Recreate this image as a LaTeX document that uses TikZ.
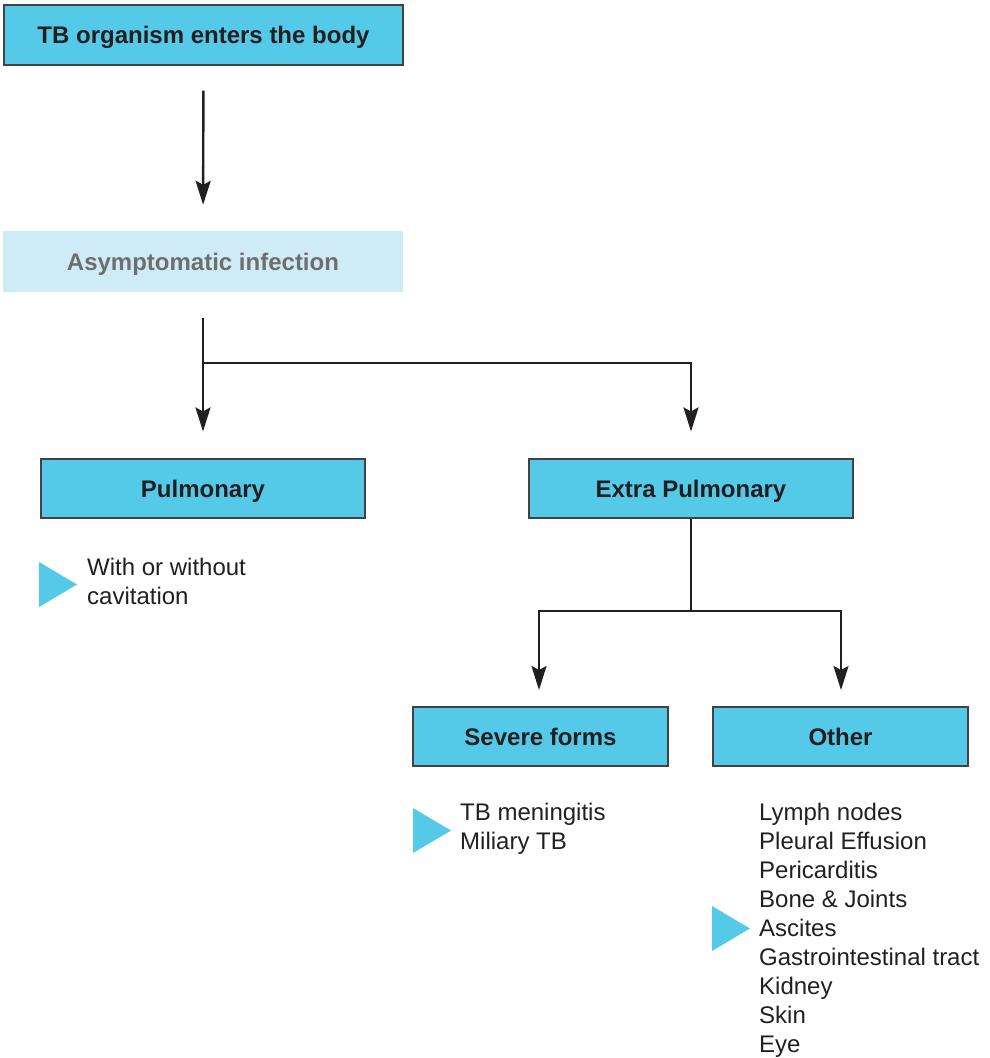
\documentclass[tikz,border=0pt]{standalone}
\usepackage{fontspec}
\setmainfont{Liberation Sans}
\usetikzlibrary{arrows.meta}
\definecolor{boxcyan}{HTML}{55C9E8}
\definecolor{boxpale}{HTML}{CFEBF5}
\definecolor{ink}{HTML}{231F20}
\definecolor{paleink}{HTML}{6D6E70}
\begin{document}
\begin{tikzpicture}[x=1pt,y=-1pt,
  box/.style={draw=ink!85, line width=1.1pt, fill=boxcyan, text=ink,
    font=\fontsize{24}{29}\selectfont\bfseries, inner sep=0pt,
    text height=17.4pt, text depth=0pt},
  palebox/.style={fill=boxpale, text=paleink,
    font=\fontsize{24}{29}\selectfont\bfseries, inner sep=0pt,
    text height=17.4pt, text depth=0pt},
  listtext/.style={text=ink, font=\fontsize{24}{29}\selectfont,
    align=left, anchor=west, inner sep=0pt},
  flow/.style={draw=ink, line width=2.4pt,
    -{Stealth[length=24pt,width=15pt,inset=4pt]}},
  link/.style={draw=ink, line width=2.4pt},
  marker/.style={fill=boxcyan}]
  \useasboundingbox (0,0) rectangle (990,1058);

  % main boxes
  \node[box, minimum width=399pt, minimum height=60pt] (enter) at (203.5,35) {TB organism enters the body};
  \node[palebox, minimum width=400pt, minimum height=61pt] (asym) at (203,261.5) {Asymptomatic infection};
  \node[box, minimum width=324pt, minimum height=59pt] (pulm) at (203,488.5) {Pulmonary};
  \node[box, minimum width=324pt, minimum height=59pt] (extra) at (691,488.5) {Extra Pulmonary};
  \node[box, minimum width=255pt, minimum height=59pt] (severe) at (540.5,736.5) {Severe forms};
  \node[box, minimum width=255pt, minimum height=59pt] (other) at (840.5,736.5) {Other};

  % connectors
  \draw[flow, shorten <=25pt, shorten >=26pt] (enter.south) -- (asym.north);
  \coordinate (split) at (203,363);
  \draw[link, shorten <=26pt] (asym.south) -- (split);
  \draw[flow, shorten >=27pt] (split) -- (pulm.north);
  \draw[flow, shorten >=27pt] (split) -| (extra.north);
  \coordinate (split2) at (691,611);
  \coordinate (sevtop) at (539,707);
  \coordinate (othtop) at (841,707);
  \draw[link] (extra.south) -- (split2);
  \draw[flow, shorten >=17pt] (split2) -| (sevtop);
  \draw[flow, shorten >=17pt] (split2) -| (othtop);

  % detail lists with markers
  \fill[marker] (39,562) -- (77,584.5) -- (39,607) -- cycle;
  \node[listtext] (pulmlist) at (87,581) {With or without\\cavitation};

  \fill[marker] (413,808) -- (451,830.5) -- (413,853) -- cycle;
  \node[listtext] (sevlist) at (460,829) {TB meningitis\\Miliary TB};

  \fill[marker] (712,906) -- (750,928.5) -- (712,951) -- cycle;
  \node[listtext] (othlist) at (759,930) {Lymph nodes\\Pleural Effusion\\Pericarditis\\Bone \& Joints\\Ascites\\Gastrointestinal tract\\Kidney\\Skin\\Eye};
\end{tikzpicture}
\end{document}
